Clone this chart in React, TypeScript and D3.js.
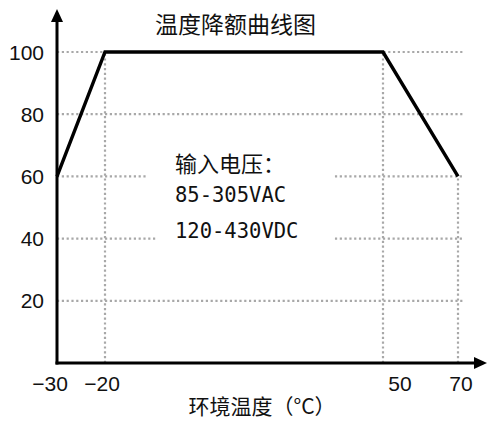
import React from "react";
import * as d3 from "d3";

const title = "温度降额曲线图";
const xLabel = "环境温度（°C）";
const noteLines = ["输入电压：", "85-305VAC", "120-430VDC"];

const curveTemps = [-30, -20, 50, 70];
const curveLoads = [60, 100, 100, 60];

const yTicks = [20, 40, 60, 80, 100];
const xTicks = [-30, -20, 50, 70];

// horizontal grid segments: [load, fromTemp, toTemp]
const hGrid: [number, number, number][] = [
  [100, -30, 71.3],
  [80, -30, 71.3],
  [60, -30, -9.2],
  [60, 37.9, 71.3],
  [40, -30, -6.7],
  [40, 37.9, 71.3],
  [20, -30, 71.3],
];
// vertical grid segments: [temp, fromLoad, toLoad]
const vGrid: [number, number, number][] = [
  [-20, 0, 100],
  [50, 0, 100],
  [70, 0, 60],
];

const W = 487;
const H = 421;

export default function App() {
  const x = d3.scaleLinear().domain([-30, -20, 50, 70]).range([57, 105, 383, 458]);
  const y = d3.scaleLinear().domain([0, 100]).range([363, 52]);
  const line = d3
    .line<number>()
    .x((_, i) => x(curveTemps[i]))
    .y((d) => y(d));

  const x0 = x(-30);
  const y0 = y(0);
  const cjk = "'Noto Sans CJK SC', sans-serif";
  const num = "'Liberation Sans', Arial, sans-serif";
  const mono = "'DejaVu Sans Mono', 'Liberation Mono', monospace";

  return (
    <svg
      width={W}
      height={H}
      style={{ position: "absolute", left: 0, top: 0, background: "#fff" }}
    >
      <rect width={W} height={H} fill="#fff" />
      {hGrid.map(([v, a, b], i) => (
        <line
          key={"h" + i}
          x1={x(a)}
          x2={x(b)}
          y1={y(v)}
          y2={y(v)}
          stroke="#a8a8a8"
          strokeWidth={2.2}
          strokeDasharray="2.2,2.6"
        />
      ))}
      {vGrid.map(([t, a, b], i) => (
        <line
          key={"v" + i}
          x1={x(t)}
          x2={x(t)}
          y1={y(a)}
          y2={y(b)}
          stroke="#a8a8a8"
          strokeWidth={2.2}
          strokeDasharray="2.2,2.6"
        />
      ))}
      {/* axes */}
      <line x1={x0} x2={x0} y1={y0 + 1.5} y2={20} stroke="#000" strokeWidth={3} />
      <path d={`M${x0},9 L${x0 - 6},22 L${x0 + 6},22 Z`} fill="#000" />
      <line x1={x0 - 1.5} x2={476} y1={y0} y2={y0} stroke="#000" strokeWidth={3} />
      <path d={`M487,${y0} L474,${y0 - 6} L474,${y0 + 6} Z`} fill="#000" />
      {/* curve */}
      <path
        d={line(curveLoads) || ""}
        fill="none"
        stroke="#000"
        strokeWidth={3.4}
        strokeLinejoin="miter"
      />
      {/* y ticks */}
      {yTicks.map((v) => (
        <text
          key={"yt" + v}
          x={44}
          y={y(v)}
          textAnchor="end"
          dominantBaseline="central"
          fontFamily={num}
          fontSize={21}
          fill="#111"
        >
          {v}
        </text>
      ))}
      {/* x ticks */}
      {xTicks.map((v, i) => (
        <text
          key={"xt" + v}
          x={x(v) + [-7, -3, 17, 3][i]}
          y={383}
          textAnchor="middle"
          dominantBaseline="central"
          fontFamily={num}
          fontSize={21}
          fill="#111"
        >
          {v < 0 ? "\u2212" + Math.abs(v) : v}
        </text>
      ))}
      <text
        x={235.5}
        y={23}
        textAnchor="middle"
        dominantBaseline="central"
        fontFamily={cjk}
        fontSize={23}
        fill="#111"
      >
        {title}
      </text>
      <text
        x={262}
        y={405}
        textAnchor="middle"
        dominantBaseline="central"
        fontFamily={cjk}
        fontSize={21}
        fill="#111"
      >
        {xLabel}
      </text>
      {noteLines.map((s, i) => (
        <text
          key={"n" + i}
          x={175}
          y={[162, 195, 231][i]}
          dominantBaseline="central"
          fontFamily={i === 0 ? cjk : mono}
          fontSize={i === 0 ? 22 : 20.5}
          fill="#111"
        >
          {s}
        </text>
      ))}
    </svg>
  );
}
